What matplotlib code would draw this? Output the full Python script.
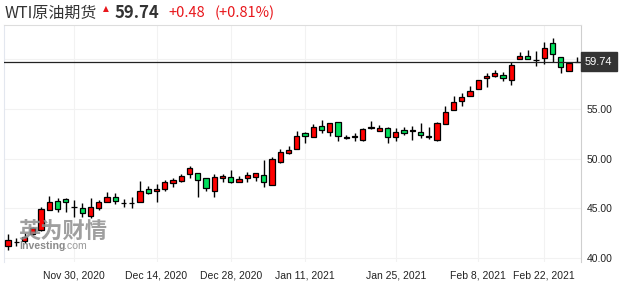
import numpy as np
import matplotlib
matplotlib.use("Agg")
import matplotlib.pyplot as plt
import matplotlib.transforms as mtransforms

# daily OHLC, WTI crude futures
opens = [41.2, 41.6, 41.7, 42.4, 42.8, 44.8, 45.7, 45.9, 45.1, 45.0,
         44.2, 45.0, 45.6, 46.1, 45.5, 45.55, 45.6, 46.9, 46.7, 46.9,
         47.5, 47.7, 48.5, 48.6, 48.0, 46.7, 48.1, 48.2, 47.6, 48.1,
         48.2, 48.4, 47.3, 49.7, 50.6, 51.0, 52.6, 52.2, 53.3, 52.7,
         53.7, 52.1, 52.2, 51.9, 53.1, 52.8, 53.1, 52.2, 52.9, 52.8,
         52.7, 52.2, 51.9, 53.5, 54.9, 55.8, 56.3, 57.0, 58.1, 58.3,
         58.4, 57.9, 60.0, 60.3, 59.9, 60.1, 61.6, 60.2, 58.8, 59.70]
highs = [42.4, 42.0, 42.5, 43.1, 45.1, 46.2, 46.0, 46.0, 45.8, 45.5,
         46.0, 45.8, 46.6, 46.5, 45.9, 46.1, 47.7, 47.2, 47.4, 47.8,
         48.0, 48.5, 49.3, 48.6, 48.0, 48.5, 48.5, 48.9, 48.3, 48.7,
         48.6, 49.9, 50.2, 51.0, 51.3, 52.8, 52.7, 53.5, 53.9, 53.6,
         53.7, 52.4, 52.6, 53.1, 53.8, 53.4, 53.2, 53.1, 53.2, 53.3,
         53.6, 53.2, 53.7, 55.3, 56.3, 56.6, 57.3, 57.9, 58.6, 58.9,
         58.7, 59.7, 60.7, 60.9, 60.8, 61.7, 62.2, 60.2, 59.7, 60.2]
lows = [40.8, 41.2, 41.5, 42.3, 42.7, 44.8, 44.6, 44.6, 44.1, 44.1,
        44.0, 44.8, 45.6, 45.4, 45.1, 45.0, 45.6, 46.4, 45.6, 46.7,
        47.1, 47.6, 48.1, 46.1, 46.7, 46.1, 47.6, 47.5, 47.6, 47.6,
        47.7, 47.1, 47.3, 49.6, 50.5, 51.0, 51.6, 52.2, 52.6, 52.3,
        51.8, 52.0, 51.8, 51.8, 53.0, 52.8, 51.6, 51.8, 52.4, 51.9,
        52.1, 52.0, 51.8, 53.5, 54.9, 55.3, 56.3, 57.0, 57.2, 58.2,
        57.8, 57.4, 60.0, 60.0, 59.3, 59.5, 59.7, 58.6, 58.8, 59.7]
closes = [41.8, 41.6, 42.1, 43.0, 44.9, 45.6, 44.9, 45.6, 45.1, 44.5,
          45.1, 45.6, 46.1, 45.7, 45.5, 45.5, 46.7, 46.5, 46.9, 47.6,
          47.8, 48.3, 49.1, 47.8, 47.0, 48.2, 48.3, 47.6, 47.9, 48.4,
          48.6, 47.6, 50.0, 50.7, 50.9, 52.3, 52.3, 53.2, 52.9, 53.6,
          52.3, 52.1, 52.3, 53.0, 53.1, 53.1, 52.2, 52.7, 52.6, 52.8,
          52.4, 52.2, 53.6, 54.7, 55.7, 56.2, 56.8, 57.9, 58.3, 58.6,
          58.1, 59.4, 60.3, 60.0, 59.9, 61.1, 60.5, 59.2, 59.6, 59.74]

date_labels = ["Nov 30, 2020", "Dec 14, 2020", "Dec 28, 2020", "Jan 11, 2021",
               "Jan 25, 2021", "Feb 8, 2021", "Feb 22, 2021"]
date_index = [8, 18, 27, 36, 47, 57, 65]

y_ticks = [40, 45, 50, 55, 60]
last_price = 59.74

RED = "#ff0000"
GREEN = "#00e05c"

W, H = 622, 284
fig = plt.figure(figsize=(W / 100, H / 100), dpi=100)
fig.patch.set_facecolor("white")
ax = fig.add_axes([4 / W, (H - 262) / H, (581 - 4) / W, (262 - 25) / H])

o = np.array(opens)
c = np.array(closes)
x = np.arange(len(o))
up = c >= o
bottom = np.minimum(o, c)
height = np.maximum(np.abs(c - o), 0.04)
colors = [RED if u else GREEN for u in up]

ax.vlines(x, lows, highs, color="black", lw=1.0, zorder=2)
ax.bar(x, height, bottom=bottom, width=0.64, color=colors,
       edgecolor="black", linewidth=0.9, zorder=3)

ax.set_xlim(-0.49, 69.45)
ax.set_ylim(39.59, 63.46)

# grid
ax.set_yticks(y_ticks)
ax.set_yticklabels(["%.2f" % v if v < 60 else "" for v in y_ticks])
ax.set_xticks(date_index)
ax.set_xticklabels(date_labels)
ax.grid(True, color="#f2f2f2", lw=0.8, zorder=0)
ax.yaxis.tick_right()
ax.tick_params(axis="both", length=0, labelsize=7.5, colors="#222222")
ax.tick_params(axis="x", pad=6)
ax.tick_params(axis="y", pad=4)
for lab in ax.get_xticklabels() + ax.get_yticklabels():
    lab.set_family("Liberation Sans")

ax.spines["bottom"].set_visible(False)
ax.spines["left"].set_color("#e3e7ef")
ax.spines["top"].set_color("#dddddd")
ax.spines["right"].set_color("#cfcfcf")

# last price line and tag
ax.axhline(last_price, color="#222222", lw=0.9, zorder=4)
trans = mtransforms.blended_transform_factory(ax.transAxes, ax.transData)
ax.text(1.0 + 4 / 577, last_price, "%.2f" % last_price, transform=trans,
        ha="left", va="center", color="white", fontsize=8,
        family="Liberation Sans", clip_on=False,
        bbox=dict(boxstyle="square,pad=0.4", fc="#333333", ec="#333333"))

# header
cjk = ["Noto Sans CJK SC", "DejaVu Sans"]
ty = (H - 13) / H
fig.text(5 / W, ty, "WTI原油期货", family=cjk, fontsize=11.5, color="#333333",
         va="center", ha="left")
fig.text(106 / W, (H - 9) / H, "▲", fontsize=5.5, color="#e8161b",
         va="center", ha="center")
fig.text(115 / W, ty, "59.74", family=cjk, fontsize=12, fontweight="bold",
         color="#333333", va="center", ha="left")
fig.text(168 / W, ty, "+0.48", family=cjk, fontsize=10.5, color="#e8161b",
         va="center", ha="left")
fig.text(215 / W, ty, "(+0.81%)", family=cjk, fontsize=10.5, color="#e8161b",
         va="center", ha="left")

# watermark
fig.text(18 / W, (H - 231) / H, "英为财情", family=cjk, fontsize=16,
         fontweight="bold", color="#8e8e8e", alpha=0.85, va="center", ha="left")
fig.text(19 / W, (H - 246) / H, "Investing", family="Liberation Sans",
         fontsize=7.6, fontweight="bold", color="#8a8a8a", va="center", ha="left")
fig.text(64 / W, (H - 246) / H, ".com", family="Liberation Sans",
         fontsize=7.6, color="#9a9a9a", va="center", ha="left")

fig.savefig("out.png", dpi=100)
